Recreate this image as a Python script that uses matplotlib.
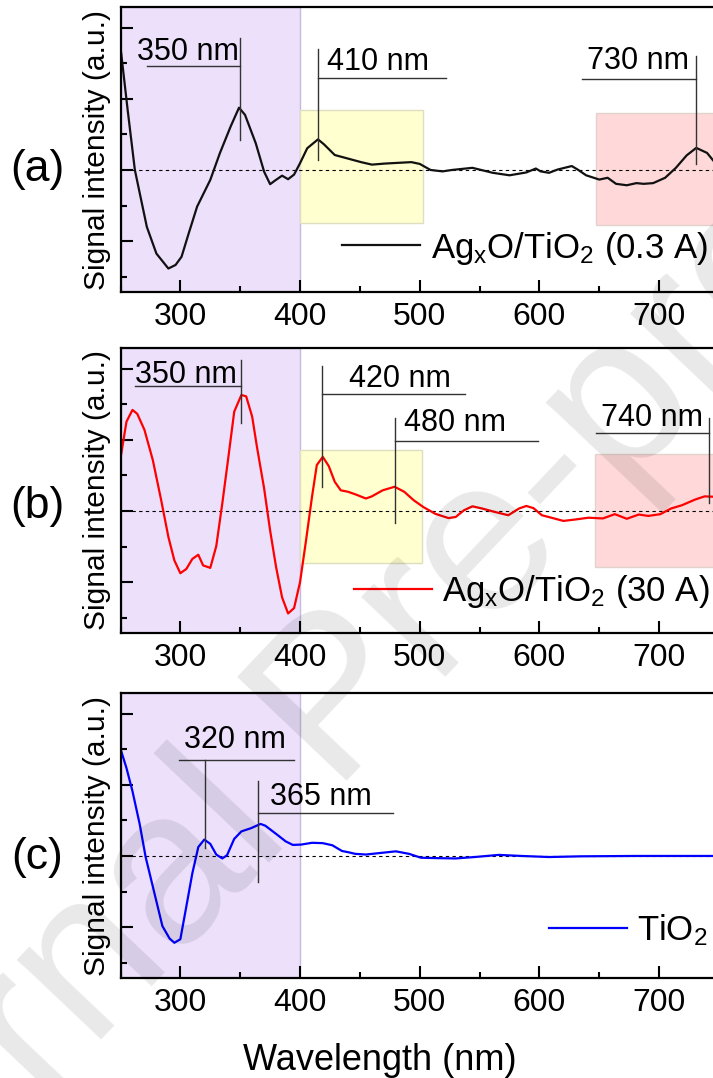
import matplotlib
matplotlib.use('Agg')
import matplotlib.pyplot as plt
from matplotlib.ticker import MultipleLocator, NullFormatter
from matplotlib.patches import Rectangle

plt.rcParams['font.family'] = ['Liberation Sans', 'DejaVu Sans']
plt.rcParams['mathtext.fontset'] = 'custom'
plt.rcParams['mathtext.rm'] = 'Liberation Sans'
plt.rcParams['mathtext.it'] = 'Liberation Sans:italic'

# ---------------- data ----------------
wl_a = [250, 256, 262, 272, 280, 290, 296, 301, 307, 314, 325, 333, 342, 349, 354,
        363, 370, 375, 379, 385, 390, 395, 400, 406, 415, 420, 429, 440, 451, 460,
        471, 482, 493, 500, 509, 519, 527, 544, 561, 575, 589, 597, 601, 608, 615,
        627, 632, 639, 650, 657, 664, 673, 681, 687, 695, 705, 714, 723, 731, 740, 748]
sig_a = [3.45, 1.68, 0.00, -1.60, -2.35, -2.77, -2.67, -2.44, -1.78, -1.03, -0.28, 0.47, 1.22, 1.75, 1.55,
         0.75, -0.05, -0.40, -0.30, -0.16, -0.26, -0.13, 0.19, 0.61, 0.86, 0.72, 0.42, 0.32, 0.22, 0.15,
         0.18, 0.20, 0.22, 0.17, 0.00, -0.04, 0.00, 0.06, -0.08, -0.15, -0.07, 0.04, -0.04, -0.08, 0.01,
         0.11, 0.01, -0.15, -0.27, -0.22, -0.39, -0.43, -0.37, -0.39, -0.37, -0.22, 0.06, 0.41, 0.62, 0.48, 0.15]

wl_b = [250, 255, 260, 264, 270, 277, 284, 290, 295, 300, 305, 310, 315, 319, 325,
        330, 335, 340, 345, 351, 355, 360, 364, 370, 375, 380, 385, 390, 395, 400,
        405, 410, 414, 419, 424, 429, 434, 440, 446, 455, 460, 469, 479, 487, 495,
        503, 513, 524, 530, 537, 544, 552, 563, 574, 583, 589, 595, 602, 610, 620,
        630, 641, 653, 663, 673, 683, 691, 701, 710, 719, 730, 738, 745]
sig_b = [1.48, 2.51, 2.84, 2.73, 2.28, 1.43, 0.30, -0.73, -1.39, -1.75, -1.63, -1.35, -1.23, -1.53, -1.60,
         -0.99, 0.20, 1.48, 2.79, 3.26, 3.22, 2.65, 1.80, 0.63, -0.55, -1.58, -2.43, -2.88, -2.73, -2.00,
         -0.83, 0.40, 1.29, 1.52, 1.26, 0.82, 0.58, 0.54, 0.47, 0.35, 0.41, 0.58, 0.68, 0.54, 0.30,
         0.11, -0.08, -0.20, -0.17, 0.02, 0.13, 0.07, -0.03, -0.12, 0.07, 0.14, 0.08, -0.12, -0.19, -0.28,
         -0.24, -0.19, -0.21, -0.09, -0.22, -0.10, -0.14, -0.09, 0.07, 0.16, 0.32, 0.41, 0.40]

wl_c = [250, 255, 260, 266, 271, 277, 285, 291, 295, 300, 305, 310, 315, 320, 325,
        330, 335, 339, 345, 351, 359, 367, 371, 380, 388, 394, 401, 410, 419, 427,
        435, 441, 446, 455, 466, 480, 491, 501, 513, 530, 546, 566, 585, 608, 635, 680, 745]
sig_c = [3.01, 2.47, 1.82, 0.90, -0.03, -0.86, -1.97, -2.32, -2.44, -2.34, -1.42, -0.49, 0.25, 0.46, 0.34,
         0.04, -0.07, 0.02, 0.48, 0.69, 0.78, 0.90, 0.85, 0.62, 0.41, 0.31, 0.32, 0.37, 0.36, 0.30,
         0.14, 0.10, 0.06, 0.04, 0.08, 0.13, 0.06, -0.05, -0.06, -0.07, -0.03, 0.03, 0.00, -0.03, -0.01, 0.00, 0.00]

series_labels = [r'Ag$_\mathregular{x}$O/TiO$_\mathregular{2}$ (0.3 A)',
                 r'Ag$_\mathregular{x}$O/TiO$_\mathregular{2}$ (30 A)',
                 r'TiO$_\mathregular{2}$']
panel_tags = ['(a)', '(b)', '(c)']
peaks_a = [350, 410, 730]
peaks_b = [350, 420, 480, 740]
peaks_c = [320, 365]
xtick_values = [300, 400, 500, 600, 700]

# ---------------- layout ----------------
W, H = 713, 1078
fig = plt.figure(figsize=(W / 100, H / 100), dpi=100)

def rect(top, bottom, left=120.5, right=713):
    return [left / W, 1 - bottom / H, (right - left) / W, (bottom - top) / H]

panel_px = [(7, 292), (348, 633), (693, 978)]
colors = ['#111111', '#ff0000', '#0000ff']
ylo, yhi = -3.43, 4.58
xlo, xhi = 250, 745

# annotation geometry: (vline x, vline top, vline bottom, hline y, hline x0, hline x1, text x, text y)
ann_geom = [
    [(349.5, 3.72, 0.85, 2.93, 272, 349.5, 306, 3.10),
     (414.7, 3.41, 0.28, 2.59, 414.7, 522, 465.5, 2.80),
     (731.0, 3.21, 0.17, 2.56, 635.5, 731.0, 682, 2.84)],
    [(351.0, 4.24, 2.46, 3.51, 261.7, 351.0, 304.6, 3.60),
     (418.6, 4.07, 0.68, 3.30, 418.6, 538, 483.3, 3.47),
     (479.0, 2.60, -0.34, 1.98, 479.0, 599, 529.6, 2.24),
     (741.7, 2.60, 0.23, 2.18, 647, 741.7, 693.8, 2.40)],
    [(320.3, 2.69, 0.22, 2.69, 299, 395, 345.4, 3.04),
     (365.0, 2.11, -0.72, 1.22, 365.0, 477.5, 417, 1.44)],
]
yellow_boxes = [(400, 503, -1.49, 1.69), (400, 502, -1.47, 1.72), None]
pink_boxes = [(647, 760, -1.55, 1.60), (646, 760, -1.58, 1.60), None]
legend_anchor = [(0.9916, 0.154), (0.995, 0.144), (0.9916, 0.168)]
tag_y = [170, 506, 858]

wls = [wl_a, wl_b, wl_c]
sigs = [sig_a, sig_b, sig_c]
peaks = [peaks_a, peaks_b, peaks_c]

axes = []
for i in range(3):
    ax = fig.add_axes(rect(*panel_px[i]))
    axes.append(ax)
    ax.set_xlim(xlo, xhi)
    ax.set_ylim(ylo, yhi)
    # shaded regions
    ax.axvspan(250, 400, facecolor='#ece0fb', edgecolor='#c8b9e0', lw=1.0, zorder=0)
    if yellow_boxes[i]:
        x0, x1, y0, y1 = yellow_boxes[i]
        ax.add_patch(Rectangle((x0, y0), x1 - x0, y1 - y0, facecolor='#ffffcf',
                               edgecolor='#dedec0', lw=1.0, zorder=0))
    if pink_boxes[i]:
        x0, x1, y0, y1 = pink_boxes[i]
        ax.add_patch(Rectangle((x0, y0), x1 - x0, y1 - y0, facecolor='#ffd9d9',
                               edgecolor='#e2d2cc', lw=1.0, zorder=0))
    ax.hlines(0, 260, xhi, colors='black', linestyles=(0, (3, 3)), lw=0.8, zorder=1)
    line, = ax.plot(wls[i], sigs[i], color=colors[i], lw=1.6, zorder=2)
    # annotations
    for p, g in zip(peaks[i], ann_geom[i]):
        vx, vt, vb, hy, hx0, hx1, tx, ty = g
        ax.plot([vx, vx], [vb, vt], color='#333333', lw=1.0, zorder=3)
        ax.plot([hx0, hx1], [hy, hy], color='#333333', lw=1.0, zorder=3)
        ax.text(tx, ty, f'{p} nm', ha='center', va='baseline', fontsize=22, zorder=4)
    # axes styling
    for s in ['left', 'top', 'bottom']:
        ax.spines[s].set_linewidth(1.6)
    ax.spines['right'].set_visible(False)
    ax.set_xticks(xtick_values)
    ax.xaxis.set_minor_locator(MultipleLocator(50))
    ax.yaxis.set_major_locator(MultipleLocator(2))
    ax.yaxis.set_minor_locator(MultipleLocator(1))
    ax.yaxis.set_major_formatter(NullFormatter())
    ax.tick_params(which='major', direction='in', length=8.5, width=1.5, labelsize=23, pad=7,
                   top=False, right=False)
    ax.tick_params(which='minor', direction='in', length=4.3, width=1.5, top=False, right=False)
    ax.set_ylabel('Signal intensity (a.u.)', fontsize=21.5)
    ax.yaxis.set_label_coords(-0.016, 0.5)
    ax.legend([line], [series_labels[i]], loc='center right', bbox_to_anchor=legend_anchor[i],
              frameon=False, fontsize=25, handlelength=2.25, handletextpad=0.3,
              borderpad=0, borderaxespad=0)
    fig.text(37 / W, 1 - tag_y[i] / H, panel_tags[i], ha='center', va='center', fontsize=32)

fig.text(379.5 / W, 1 - 1070 / H, 'Wavelength (nm)', ha='center', va='baseline', fontsize=26)

# watermark
fig.text(340 / W, 1 - 705 / H, 'Journal Pre-proof', ha='center', va='center', rotation=46.5,
         rotation_mode='anchor', fontsize=158, color='black', alpha=0.09, zorder=10)

fig.savefig('out.png', dpi=100)
